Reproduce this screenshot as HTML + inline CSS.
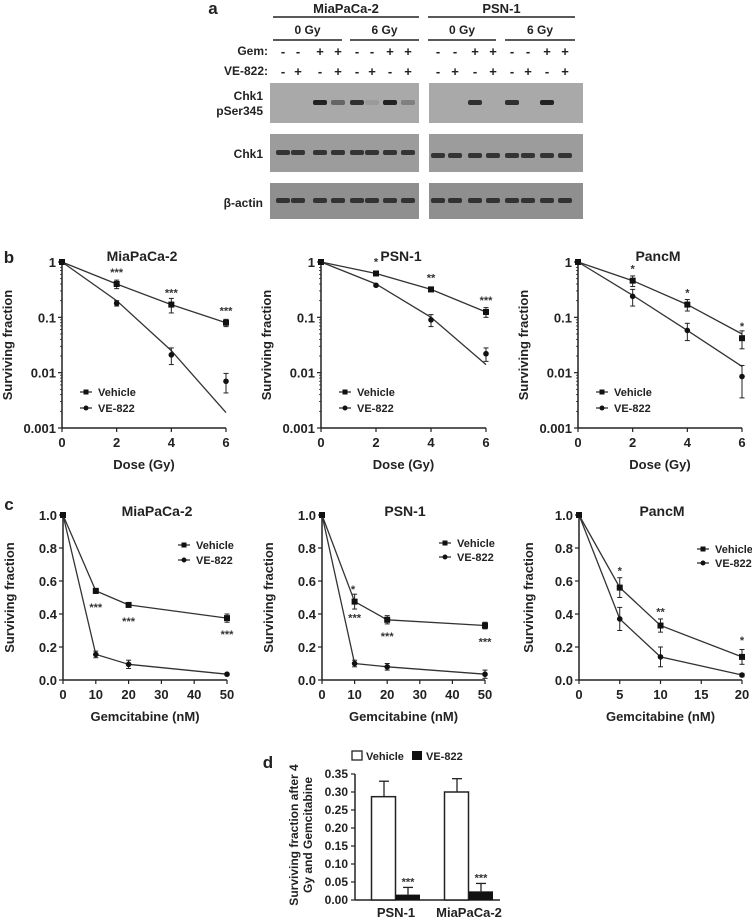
<!DOCTYPE html>
<html><head><meta charset="utf-8"><style>
html,body{margin:0;padding:0;background:#fff;}
svg{display:block;font-family:"Liberation Sans",Arial,sans-serif;font-weight:bold;}
</style></head><body>
<svg id="fig" width="752" height="921" viewBox="0 0 752 921" xmlns="http://www.w3.org/2000/svg"></svg>
<script>
// ---- Panel b data (surviving fraction vs dose) ----
const bDoses = [0, 2, 4, 6];
const bMiaVeh = [1, 0.40, 0.17, 0.08];
const bMiaVehErr = [0, 0.07, 0.05, 0.012];
const bMiaVE = [1, 0.18, 0.021, 0.007];
const bMiaVEErr = [0, 0.02, 0.007, 0.0027];
const bMiaVEFit = [1, 0.2, 0.025, 0.0019];
const bPsnVeh = [1, 0.62, 0.32, 0.125];
const bPsnVehErr = [0, 0.05, 0.03, 0.025];
const bPsnVE = [1, 0.38, 0.09, 0.022];
const bPsnVEErr = [0, 0.02, 0.022, 0.006];
const bPsnVEFit = [1, 0.4, 0.1, 0.014];
const bPanVeh = [1, 0.46, 0.17, 0.042];
const bPanVehErr = [0, 0.1, 0.04, 0.015];
const bPanVE = [1, 0.24, 0.058, 0.0085];
const bPanVEErr = [0, 0.08, 0.02, 0.005];
const bPanVEFit = [1, 0.25, 0.058, 0.013];
const bPanVehFit = [1, 0.46, 0.17, 0.05];
const bMiaStars = ["***", "***", "***"];
const bPsnStars = ["*", "**", "***"];
const bPanStars = ["*", "*", "*"];
const bTicks = [1, 0.1, 0.01, 0.001];
const bTickLabels = ["1", "0.1", "0.01", "0.001"];
const bXTicks = [0, 2, 4, 6];
// ---- Panel c data (surviving fraction vs gemcitabine) ----
const cGem = [0, 10, 20, 50];
const cMiaVeh = [1, 0.54, 0.455, 0.375];
const cMiaVehErr = [0, 0.015, 0.01, 0.025];
const cMiaVE = [1, 0.155, 0.095, 0.035];
const cMiaVEErr = [0, 0.02, 0.025, 0.006];
const cPsnVeh = [1, 0.475, 0.365, 0.33];
const cPsnVehErr = [0, 0.045, 0.025, 0.02];
const cPsnVE = [1, 0.10, 0.08, 0.035];
const cPsnVEErr = [0, 0.02, 0.02, 0.025];
const cPanGem = [0, 5, 10, 20];
const cPanVeh = [1, 0.56, 0.33, 0.14];
const cPanVehErr = [0, 0.06, 0.04, 0.045];
const cPanVE = [1, 0.37, 0.14, 0.03];
const cPanVEErr = [0, 0.07, 0.06, 0.01];
const cYTicks = [0, 0.2, 0.4, 0.6, 0.8, 1.0];
const cXTicks = [0, 10, 20, 30, 40, 50];
const cPanXTicks = [0, 5, 10, 15, 20];
// ---- Panel d data ----
const dCats = ["PSN-1", "MiaPaCa-2"];
const dVeh = [0.287, 0.300];
const dVehErr = [0.043, 0.037];
const dVE = [0.015, 0.024];
const dVEErr = [0.020, 0.022];
const dTicks = [0, 0.05, 0.10, 0.15, 0.20, 0.25, 0.30, 0.35];

const NS = "http://www.w3.org/2000/svg";
const svg = document.getElementById("fig");
function mk(tag, attrs, parent, text) {
  const e = document.createElementNS(NS, tag);
  for (const k in attrs) e.setAttribute(k, attrs[k]);
  if (text !== undefined) e.textContent = text;
  (parent || svg).appendChild(e);
  return e;
}
function grp(name) {
  const g = mk("g", {});
  
  
  return g;
}
function txt(g, x, y, s, size, anchor, name, extra) {
  const a = Object.assign({x: x, y: y, "font-size": size, "text-anchor": anchor || "middle", fill: "#222"}, extra || {});
  const t = mk("text", a, g, s);
  
  
  return t;
}

// ===== Panel a =====
(function () {
  const g = grp("panel-a-western-blot");
  txt(g, 213, 14, "a", 17, "middle", "panel-a-label");
  const groups = [
    {name: "MiaPaCa-2", x0: 273, x1: 419, bx0: 270, bx1: 419, sub: [[273, 342, "0 Gy"], [350, 419, "6 Gy"]],
     lanes: [283, 298, 320, 338, 357, 372, 390, 408], p: [0, 0, 1, 0.5, 0.9, 0.1, 1, 0.3]},
    {name: "PSN-1", x0: 428, x1: 575, bx0: 429, bx1: 583, sub: [[428, 496, "0 Gy"], [505, 575, "6 Gy"]],
     lanes: [438, 455, 475, 493, 512, 528, 547, 565], p: [0, 0, 0.9, 0, 0.9, 0, 1, 0]}
  ];
  const gem = ["-", "-", "+", "+", "-", "-", "+", "+"];
  const ve = ["-", "+", "-", "+", "-", "+", "-", "+"];
  txt(g, 268, 55, "Gem:", 12, "end", "gem-row-label");
  txt(g, 268, 75, "VE-822:", 12, "end", "ve822-row-label");
  txt(g, 263, 100, "Chk1", 12, "end", "chk1-pser345-label");
  txt(g, 263, 115, "pSer345", 12, "end", "pser345-label");
  txt(g, 263, 158, "Chk1", 12, "end", "chk1-label");
  txt(g, 263, 207, "β-actin", 12, "end", "beta-actin-label");
  groups.forEach(gr => {
    txt(g, (gr.x0 + gr.x1) / 2, 13, gr.name, 13, "middle", "blot-cell-line-" + gr.name.toLowerCase());
    mk("line", {x1: gr.x0, x2: gr.x1, y1: 17, y2: 17, stroke: "#222", "stroke-width": 1.5}, g);
    gr.sub.forEach(s => {
      txt(g, (s[0] + s[1]) / 2, 34, s[2], 12, "middle", "dose-label");
      mk("line", {x1: s[0], x2: s[1], y1: 40, y2: 40, stroke: "#222", "stroke-width": 1.5}, g);
    });
    gr.lanes.forEach((lx, i) => {
      txt(g, lx, 56, gem[i], 13, "middle", "gem-sign");
      txt(g, lx, 76, ve[i], 13, "middle", "ve822-sign");
    });
    const rows = [[83, 123, "#a9a9a9"], [134, 172, "#9c9c9c"], [183, 219, "#8f8f8f"]];
    rows.forEach((r, ri) => {
      const b = mk("rect", {x: gr.bx0, y: r[0], width: gr.bx1 - gr.bx0, height: r[1] - r[0], fill: r[2]}, g);
      
      
      gr.lanes.forEach((lx, i) => {
        let op = ri === 0 ? gr.p[i] : 0.85;
        if (op <= 0) return;
        const yc = (r[0] + r[1]) / 2 + (gr.name === "PSN-1" && ri === 1 ? 3 : 0);
        mk("rect", {x: lx - 7, y: yc - 3, width: 14, height: 5, rx: 2, fill: "#222", opacity: op}, g);
      });
    });
  });
})();

// ===== generic line chart =====
function chart(opt) {
  const g = grp(opt.name);
  const X = v => opt.ax + (v - opt.xmin) / (opt.xmax - opt.xmin) * (opt.ax1 - opt.ax);
  const Y = opt.log
    ? v => opt.ay0 - (Math.log10(v) - Math.log10(opt.ymin)) / (Math.log10(opt.ymax) - Math.log10(opt.ymin)) * (opt.ay0 - opt.ay1)
    : v => opt.ay0 - (v - opt.ymin) / (opt.ymax - opt.ymin) * (opt.ay0 - opt.ay1);
  mk("line", {x1: opt.ax, x2: opt.ax, y1: opt.ay1, y2: opt.ay0, stroke: "#222", "stroke-width": 1.5}, g);
  mk("line", {x1: opt.ax, x2: opt.ax1, y1: opt.ay0, y2: opt.ay0, stroke: "#222", "stroke-width": 1.5}, g);
  opt.yTicks.forEach((v, i) => {
    const y = Y(v);
    mk("line", {x1: opt.ax - 4, x2: opt.ax, y1: y, y2: y, stroke: "#222", "stroke-width": 1.2}, g);
    txt(g, opt.ax - 6, y + 5, opt.yLabels[i], 13, "end", "y-tick-label");
    if (opt.log && i < opt.yTicks.length - 1) {
      for (let m = 2; m <= 9; m++) {
        const ym = Y(v / 10 * m);
        mk("line", {x1: opt.ax - 2, x2: opt.ax, y1: ym, y2: ym, stroke: "#222", "stroke-width": 0.8}, g);
      }
    }
  });
  opt.xTicks.forEach(v => {
    const x = X(v);
    mk("line", {x1: x, x2: x, y1: opt.ay0, y2: opt.ay0 + 4, stroke: "#222", "stroke-width": 1.2}, g);
    txt(g, x, opt.ay0 + 19, String(v), 13, "middle", "x-tick-label");
  });
  txt(g, (opt.ax + opt.ax1) / 2, opt.ay0 + 41, opt.xTitle, 13, "middle", "x-axis-title");
  txt(g, opt.titleX, opt.titleY, opt.title, 14, "middle", "chart-title");
  const yt = txt(g, 0, 0, "Surviving fraction", 13, "middle", "y-axis-title");
  yt.setAttribute("transform", "translate(" + opt.ytX + "," + ((opt.ay0 + opt.ay1) / 2) + ") rotate(-90)");
  opt.series.forEach(s => {
    const lineVals = s.fit || s.vals;
    const pts = opt.xs.map((x, i) => X(x).toFixed(1) + "," + Y(lineVals[i]).toFixed(1)).join(" ");
    const pl = mk("polyline", {points: pts, fill: "none", stroke: "#333", "stroke-width": 1.3}, g);
    
    
    opt.xs.forEach((x, i) => {
      const v = s.vals[i], e = s.err[i];
      const cx = X(x), cy = Y(v);
      if (e > 0) {
        const lo = opt.log ? Math.max(v - e, opt.ymin * 1.05) : v - e;
        const yl = Y(lo), yh = Y(v + e);
        mk("line", {x1: cx, x2: cx, y1: yh, y2: yl, stroke: "#222", "stroke-width": 1}, g);
        mk("line", {x1: cx - 2.5, x2: cx + 2.5, y1: yh, y2: yh, stroke: "#222", "stroke-width": 1}, g);
        mk("line", {x1: cx - 2.5, x2: cx + 2.5, y1: yl, y2: yl, stroke: "#222", "stroke-width": 1}, g);
      }
      const m = s.square
        ? mk("rect", {x: cx - 3, y: cy - 3, width: 6, height: 6, fill: "#111"}, g)
        : mk("circle", {cx: cx, cy: cy, r: 2.8, fill: "#111"}, g);
      
      
    });
  });
  (opt.stars || []).forEach((st, i) => {
    const x = opt.xs[i + 1];
    const v = st.ref[i + 1];
    const y = Y(v) + st.dy;
    txt(g, X(x), y, st.s, 11, "middle", "significance-marker", {fill: "#333"});
  });
  const L = opt.legend;
  [["Vehicle", true], ["VE-822", false]].forEach((it, i) => {
    const y = L.y + i * L.dy;
    mk("line", {x1: L.x - 6, x2: L.x + 6, y1: y, y2: y, stroke: "#222", "stroke-width": 1.2}, g);
    if (it[1]) mk("rect", {x: L.x - 2.5, y: y - 2.5, width: 5, height: 5, fill: "#111"}, g);
    else mk("circle", {cx: L.x, cy: y, r: 2.5, fill: "#111"}, g);
    txt(g, L.x + 12, y + 4, it[0], 11, "start", "legend-entry-" + it[0].toLowerCase());
  });
  return g;
}

txt(svg, 9, 263, "b", 17, "middle", "panel-b-label");
txt(svg, 9, 510, "c", 17, "middle", "panel-c-label");

const bBase = {log: true, ymin: 0.001, ymax: 1, ay0: 428, ay1: 262, xmin: 0, xmax: 6, xs: bDoses,
  yTicks: bTicks, yLabels: bTickLabels, xTicks: bXTicks, xTitle: "Dose (Gy)"};
[
  {name: "chart-b-miapaca2", ax: 62, ax1: 226, title: "MiaPaCa-2", v: bMiaVeh, ve: bMiaVE, vf: null, vef: bMiaVEFit, ve_e: bMiaVEErr, v_e: bMiaVehErr, st: bMiaStars},
  {name: "chart-b-psn1", ax: 321, ax1: 486, title: "PSN-1", v: bPsnVeh, ve: bPsnVE, vf: null, vef: bPsnVEFit, ve_e: bPsnVEErr, v_e: bPsnVehErr, st: bPsnStars},
  {name: "chart-b-pancm", ax: 578, ax1: 742, title: "PancM", v: bPanVeh, ve: bPanVE, vf: bPanVehFit, vef: bPanVEFit, ve_e: bPanVEErr, v_e: bPanVehErr, st: bPanStars}
].forEach(c => {
  const stars = c.st.map((s, i) => ({s: s, ref: c.v, dy: -8}));
  const o = Object.assign({}, bBase, {
    name: c.name, ax: c.ax, ax1: c.ax1, title: c.title, titleX: c.ax + 80, titleY: 261, ytX: c.ax - 50,
    series: [
      {key: "vehicle", vals: c.v, err: c.v_e, fit: c.vf, square: true},
      {key: "ve822", vals: c.ve, err: c.ve_e, fit: c.vef, square: false}
    ],
    stars: stars, legend: {x: c.ax + 24, y: 392, dy: 16}
  });
  chart(o);
});

const cBase = {log: false, ymin: 0, ymax: 1, ay0: 680, ay1: 515, yTicks: cYTicks,
  yLabels: cYTicks.map(v => v.toFixed(1)), xTitle: "Gemcitabine (nM)"};
chart(Object.assign({}, cBase, {name: "chart-c-miapaca2", ax: 63, ax1: 227, xmin: 0, xmax: 50, xs: cGem, xTicks: cXTicks,
  title: "MiaPaCa-2", titleX: 157, titleY: 516, ytX: 14,
  series: [{key: "vehicle", vals: cMiaVeh, err: cMiaVehErr, square: true}, {key: "ve822", vals: cMiaVE, err: cMiaVEErr}],
  stars: [{s: "***", ref: cMiaVeh, dy: 20}, {s: "***", ref: cMiaVeh, dy: 20}, {s: "***", ref: cMiaVeh, dy: 20}],
  legend: {x: 184, y: 545, dy: 15}}));
chart(Object.assign({}, cBase, {name: "chart-c-psn1", ax: 322, ax1: 485, xmin: 0, xmax: 50, xs: cGem, xTicks: cXTicks,
  title: "PSN-1", titleX: 405, titleY: 516, ytX: 273,
  series: [{key: "vehicle", vals: cPsnVeh, err: cPsnVehErr, square: true}, {key: "ve822", vals: cPsnVE, err: cPsnVEErr}],
  stars: [{s: "***", ref: cPsnVeh, dy: 20}, {s: "***", ref: cPsnVeh, dy: 20}, {s: "***", ref: cPsnVeh, dy: 20}],
  legend: {x: 445, y: 543, dy: 14}}));
txt(svg, 353, 593, "*", 11, "middle", "significance-marker", {fill: "#333"});
chart(Object.assign({}, cBase, {name: "chart-c-pancm", ax: 579, ax1: 742, xmin: 0, xmax: 20, xs: cPanGem, xTicks: cPanXTicks,
  title: "PancM", titleX: 662, titleY: 516, ytX: 533,
  series: [{key: "vehicle", vals: cPanVeh, err: cPanVehErr, square: true}, {key: "ve822", vals: cPanVE, err: cPanVEErr}],
  stars: [{s: "*", ref: cPanVeh, dy: -13}, {s: "**", ref: cPanVeh, dy: -10}, {s: "*", ref: cPanVeh, dy: -13}],
  legend: {x: 703, y: 549, dy: 14}}));

// ===== Panel d =====
(function () {
  const g = grp("panel-d-bar-chart");
  const ax = 355, axEnd = 500, y0 = 900, y1 = 774, ymax = 0.35;
  const Y = v => y0 - v / ymax * (y0 - y1);
  txt(g, 268, 768, "d", 17, "middle", "panel-d-label");
  mk("line", {x1: ax, x2: ax, y1: y1, y2: y0, stroke: "#222", "stroke-width": 1.5}, g);
  mk("line", {x1: ax, x2: axEnd, y1: y0, y2: y0, stroke: "#222", "stroke-width": 1.5}, g);
  dTicks.forEach(v => {
    mk("line", {x1: ax - 4, x2: ax, y1: Y(v), y2: Y(v), stroke: "#222", "stroke-width": 1.2}, g);
    txt(g, ax - 7, Y(v) + 4, v.toFixed(2), 12, "end", "y-tick-label");
  });
  const yt1 = txt(g, 0, 0, "Surviving fraction after 4", 12, "middle", "y-axis-title-line1");
  yt1.setAttribute("transform", "translate(298,835) rotate(-90)");
  const yt2 = txt(g, 0, 0, "Gy and Gemcitabine", 12, "middle", "y-axis-title-line2");
  yt2.setAttribute("transform", "translate(312,835) rotate(-90)");
  const centers = [396, 469];
  const bw = 24;
  dCats.forEach((c, i) => {
    const cx = centers[i];
    const hv = Y(dVeh[i]);
    mk("line", {x1: cx - bw / 2, x2: cx - bw / 2, y1: Y(dVeh[i] + dVehErr[i]), y2: hv, stroke: "#222", "stroke-width": 1.3}, g);
    mk("line", {x1: cx - bw / 2 - 5, x2: cx - bw / 2 + 5, y1: Y(dVeh[i] + dVehErr[i]), y2: Y(dVeh[i] + dVehErr[i]), stroke: "#222", "stroke-width": 1.3}, g);
    const b1 = mk("rect", {x: cx - bw - 0.5, y: hv, width: bw, height: y0 - hv, fill: "#fff", stroke: "#222", "stroke-width": 1.5}, g);
    
    
    const hb = Y(dVE[i]);
    mk("line", {x1: cx + bw / 2, x2: cx + bw / 2, y1: Y(dVE[i] + dVEErr[i]), y2: hb, stroke: "#222", "stroke-width": 1.3}, g);
    mk("line", {x1: cx + bw / 2 - 5, x2: cx + bw / 2 + 5, y1: Y(dVE[i] + dVEErr[i]), y2: Y(dVE[i] + dVEErr[i]), stroke: "#222", "stroke-width": 1.3}, g);
    const b2 = mk("rect", {x: cx, y: hb, width: bw, height: y0 - hb, fill: "#111"}, g);
    
    
    txt(g, cx + bw / 2, Y(dVE[i] + dVEErr[i]) - 2, "***", 11, "middle", "significance-marker", {fill: "#333"});
    txt(g, cx, 917, c, 13, "middle", "x-category-label");
  });
  mk("rect", {x: 352, y: 751, width: 10, height: 9, fill: "#fff", stroke: "#222", "stroke-width": 1.3}, g);
  txt(g, 366, 760, "Vehicle", 11, "start", "legend-entry-vehicle");
  mk("rect", {x: 412, y: 751, width: 10, height: 9, fill: "#111"}, g);
  txt(g, 426, 760, "VE-822", 11, "start", "legend-entry-ve822");
})();
</script>
</body></html>
